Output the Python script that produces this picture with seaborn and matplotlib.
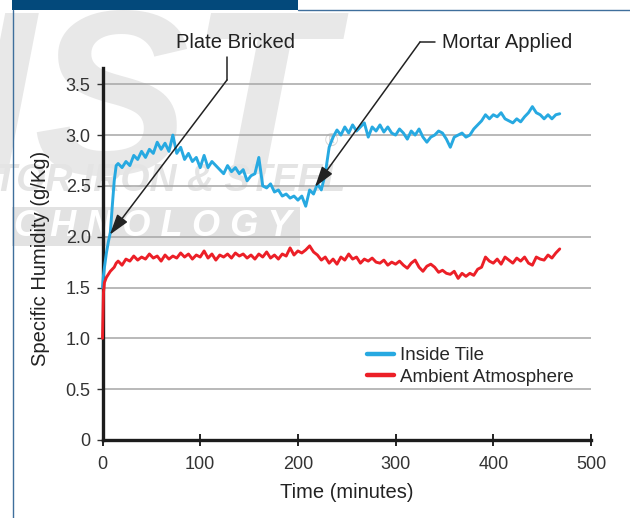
import numpy as np
import pandas as pd
import matplotlib
matplotlib.use("Agg")
import matplotlib.pyplot as plt
import seaborn as sns
from matplotlib.patches import Rectangle
from matplotlib.lines import Line2D

# ---------------- data ----------------
time_early = [0, 1, 2, 4, 6, 8, 10, 12, 14]
time_min = time_early + list(range(16, 469, 4))

inside_tile = [
    1.50, 1.62, 1.70, 1.84, 1.95, 2.04, 2.30, 2.55, 2.70,
    2.72, 2.68, 2.74, 2.70, 2.80, 2.76, 2.84, 2.78, 2.86, 2.82,
    2.93, 2.86, 2.92, 2.84, 3.00, 2.82, 2.88, 2.76, 2.82, 2.74,
    2.78, 2.68, 2.80, 2.68, 2.74, 2.70, 2.66, 2.62, 2.70, 2.64,
    2.68, 2.62, 2.66, 2.55, 2.60, 2.62, 2.78, 2.50, 2.48, 2.52,
    2.44, 2.46, 2.40, 2.42, 2.38, 2.40, 2.36, 2.40, 2.30, 2.46,
    2.42, 2.52, 2.46, 2.62, 2.88, 2.98, 3.05, 3.00, 3.08, 3.02,
    3.10, 3.04, 3.08, 3.12, 2.98, 3.08, 3.04, 3.10, 3.03, 3.08,
    3.02, 3.00, 3.06, 3.02, 2.96, 3.04, 3.00, 3.06, 2.98, 2.93,
    2.98, 3.00, 3.04, 3.02, 2.96, 2.88, 2.98, 3.00, 3.02, 2.98,
    3.00, 3.06, 3.10, 3.14, 3.20, 3.16, 3.20, 3.18, 3.22, 3.16,
    3.14, 3.12, 3.16, 3.13, 3.18, 3.22, 3.28, 3.22, 3.20, 3.16,
    3.20, 3.16, 3.20, 3.21,
]

ambient_atmosphere = [
    1.00, 1.45, 1.55, 1.60, 1.63, 1.66, 1.68, 1.70, 1.74,
    1.76, 1.72, 1.78, 1.76, 1.81, 1.77, 1.80, 1.78, 1.83, 1.79,
    1.81, 1.76, 1.82, 1.78, 1.81, 1.79, 1.84, 1.80, 1.83, 1.78,
    1.82, 1.80, 1.86, 1.79, 1.83, 1.77, 1.82, 1.80, 1.83, 1.79,
    1.84, 1.81, 1.83, 1.79, 1.82, 1.78, 1.83, 1.80, 1.85, 1.79,
    1.82, 1.78, 1.83, 1.81, 1.89, 1.82, 1.86, 1.84, 1.87, 1.91,
    1.85, 1.82, 1.77, 1.80, 1.74, 1.78, 1.73, 1.80, 1.77, 1.83,
    1.78, 1.80, 1.74, 1.78, 1.76, 1.79, 1.75, 1.74, 1.77, 1.72,
    1.75, 1.73, 1.76, 1.72, 1.69, 1.74, 1.77, 1.70, 1.66, 1.71,
    1.73, 1.70, 1.65, 1.67, 1.64, 1.63, 1.66, 1.59, 1.64, 1.61,
    1.64, 1.62, 1.68, 1.70, 1.80, 1.76, 1.74, 1.78, 1.73, 1.80,
    1.77, 1.74, 1.79, 1.76, 1.80, 1.74, 1.72, 1.80, 1.78, 1.77,
    1.82, 1.79, 1.84, 1.88,
]

series_names = ["Inside Tile", "Ambient Atmosphere"]
series_colors = ["#27a9e1", "#ec1f27"]

x_ticks = [0, 100, 200, 300, 400, 500]
y_ticks = [0, 0.5, 1.0, 1.5, 2.0, 2.5, 3.0, 3.5]
y_tick_labels = ["0", "0.5", "1.0", "1.5", "2.0", "2.5", "3.0", "3.5"]

x_label = "Time (minutes)"
y_label = "Specific Humidity (g/Kg)"
note_plate = "Plate Bricked"
note_mortar = "Mortar Applied"
plate_tip = (7.5, 2.02)      # (minutes, g/Kg) the arrow points at
mortar_tip = (217.5, 2.49)

# ---------------- build frame ----------------
df = pd.DataFrame({
    "time": time_min * 2,
    "value": inside_tile + ambient_atmosphere,
    "series": [series_names[0]] * len(time_min) + [series_names[1]] * len(time_min),
})

sns.set_theme(style="white")
plt.rcParams["font.family"] = ["Liberation Sans", "DejaVu Sans"]

W, H = 630, 518
fig = plt.figure(figsize=(W / 100, H / 100), dpi=100)
fig.patch.set_facecolor("white")


def fx(px):
    return px / W


def fy(py):
    return 1 - py / H


# ---------------- watermark & frame decorations ----------------
fig.text(fx(-30), fy(4), "IST", fontsize=168, fontweight="bold", fontstyle="italic",
         color="#e8e8e8", ha="left", va="top", zorder=0)
fig.text(fx(-6), fy(181), "TOR IRON & STEEL", fontsize=27, fontweight="bold",
         fontstyle="italic", color="#e4e4e4", ha="left", va="center", zorder=0.1)
fig.add_artist(Rectangle((fx(12), fy(246)), (300 - 12) / W, 39 / H,
                         transform=fig.transFigure, facecolor="#e2e2e2",
                         edgecolor="none", zorder=0.1))
fig.text(fx(14), fy(226), "C H N O L O G Y", fontsize=26, fontweight="bold",
         fontstyle="italic", color="white", ha="left", va="center", zorder=0.2)
fig.text(fx(331), fy(141), "\u00ae", fontsize=13, color="#d6d6d6",
         ha="center", va="center", zorder=0.2)

fig.add_artist(Rectangle((fx(12), fy(10)), (298 - 12) / W, 10 / H,
                         transform=fig.transFigure, facecolor="#03497b",
                         edgecolor="none", zorder=1))
fig.add_artist(Line2D([fx(298), fx(630)], [fy(10), fy(10)], transform=fig.transFigure,
                      color="#3f6f9c", lw=1.0, zorder=1))
fig.add_artist(Line2D([fx(12.5), fx(12.5)], [fy(10), fy(518)], transform=fig.transFigure,
                      color="#3f6f9c", lw=1.0, zorder=1))

# ---------------- axes ----------------
ax = fig.add_axes([fx(102.5), fy(440), (591 - 102.5) / W, (440 - 68) / H])
ax.patch.set_alpha(0)
ax.set_zorder(2)

sns.lineplot(data=df, x="time", y="value", hue="series", hue_order=series_names,
             palette=series_colors, estimator=None, sort=False, lw=2.1,
             legend=False, ax=ax, zorder=3, clip_on=False)

ax.set_xlim(0, 500)
ax.set_ylim(0, 3.66)
ax.set_xticks(x_ticks)
ax.set_yticks(y_ticks)
ax.set_yticklabels(y_tick_labels)

ax.set_axisbelow(True)
ax.yaxis.grid(True, color="#a6a6a6", lw=1.1)
ax.xaxis.grid(False)

for side in ["top", "right"]:
    ax.spines[side].set_visible(False)
for side in ["left", "bottom"]:
    ax.spines[side].set_color("#1c1c1c")
    ax.spines[side].set_linewidth(2.4)

ax.tick_params(axis="y", direction="out", length=4, width=1.0, color="#333333",
               pad=4.5, labelsize=13, labelcolor="#333333", left=True)
ax.tick_params(axis="x", direction="inout", length=8, width=1.4, color="#222222",
               pad=7.5, labelsize=13, labelcolor="#333333", bottom=True)

ax.set_xlabel(x_label, fontsize=14.5, color="#222222", va="center")
ax.xaxis.set_label_coords(0.5, (440 - 492) / 372)
ax.set_ylabel(y_label, fontsize=14.5, color="#222222", va="center")
ax.yaxis.set_label_coords((41 - 102.5) / 488.5, (440 - 258) / 372)

# ---------------- annotations ----------------
arrow_kw = dict(arrowstyle="-|>,head_length=0.9,head_width=0.28", color="#222222",
                lw=1.1, mutation_scale=14, shrinkA=0, shrinkB=0)

fig.text(fx(235), fy(42), note_plate, fontsize=14.5, color="#222222",
         ha="center", va="center", zorder=3)
fig.add_artist(Line2D([fx(227), fx(227)], [fy(57), fy(80)], transform=fig.transFigure,
                      color="#222222", lw=1.1, zorder=3))
ax.annotate("", xy=plate_tip, xycoords="data", xytext=(fx(227), fy(80)),
            textcoords="figure fraction", arrowprops=arrow_kw, annotation_clip=False)

fig.text(fx(442), fy(42), note_mortar, fontsize=14.5, color="#222222",
         ha="left", va="center", zorder=3)
fig.add_artist(Line2D([fx(420), fx(435)], [fy(42), fy(42)], transform=fig.transFigure,
                      color="#222222", lw=1.1, zorder=3))
ax.annotate("", xy=mortar_tip, xycoords="data", xytext=(fx(420), fy(42)),
            textcoords="figure fraction", arrowprops=arrow_kw, annotation_clip=False)

# ---------------- legend ----------------
handles = [Line2D([], [], color=c, lw=3.2) for c in series_colors]
ax.legend(handles, series_names, loc="upper left", bbox_to_anchor=(fx(367), fy(347)),
          bbox_transform=fig.transFigure, frameon=False, fontsize=13.5,
          handlelength=1.45, handletextpad=0.3, labelspacing=0.25,
          borderpad=0, borderaxespad=0)

fig.savefig("out.png", dpi=100)
